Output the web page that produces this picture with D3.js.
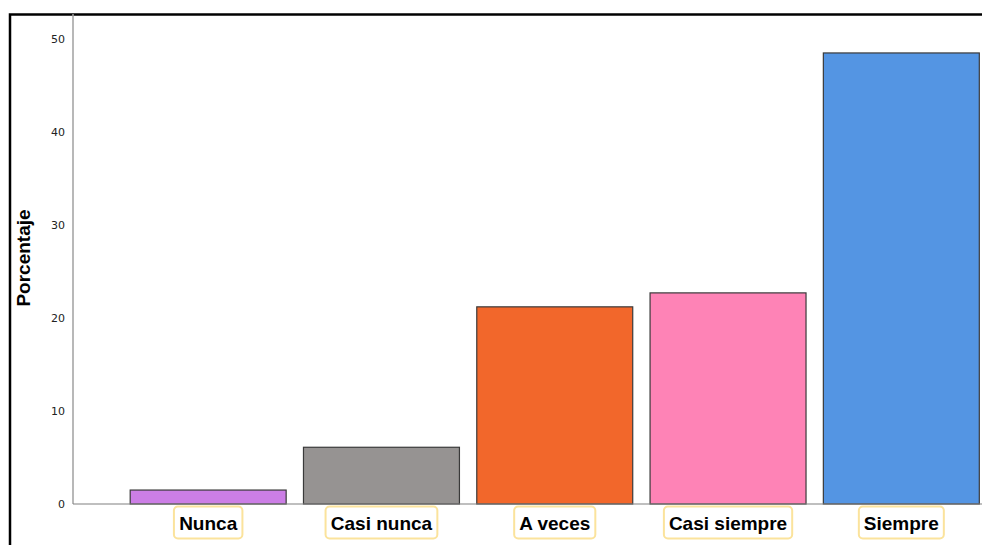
<!DOCTYPE html>
<html>
<head>
<meta charset="utf-8">
<script src="https://cdn.jsdelivr.net/npm/d3@7"></script>
<style>
  body { margin: 0; background: #fff; }
  svg { display: block; font-family: "Liberation Sans", Arial, sans-serif; }
</style>
</head>
<body>
<svg id="chart" width="982" height="545"></svg>
<script>
// chart data
var categories = ['Nunca', 'Casi nunca', 'A veces', 'Casi siempre', 'Siempre'];
var percentages = [1.5, 6.1, 21.2, 22.7, 48.5];
var barColors = ['#cc7ee6', '#969392', '#f2672b', '#fe83b6', '#5495e3'];
var yTicks = [0, 10, 20, 30, 40, 50];

var svg = d3.select('#chart');

var x0 = 73, yBase = 504;

var y = d3.scaleLinear()
    .domain([0, 50])
    .range([yBase, 39]);

var x = d3.scaleBand()
    .domain(categories)
    .range([x0, 1036.5])
    .paddingInner(0.1)
    .paddingOuter(0.33);

// outer frame
svg.append('path')
    .attr('d', 'M10,545 V14.5 H982')
    .attr('fill', 'none')
    .attr('stroke', '#000')
    .attr('stroke-width', 2.5);

// y axis
var yAxis = svg.append('g')
    .attr('transform', 'translate(' + x0 + ',0)')
    .call(d3.axisLeft(y).tickValues(yTicks).tickSize(0).tickPadding(8));
yAxis.select('.domain').remove();
yAxis.selectAll('text')
    .attr('font-size', 11)
    .attr('fill', '#222')
    .attr('font-family', '"DejaVu Sans", sans-serif');

svg.append('line')
    .attr('x1', x0).attr('x2', x0)
    .attr('y1', 14).attr('y2', yBase)
    .attr('stroke', '#a0a0a0')
    .attr('stroke-width', 1.5);

// bars
svg.selectAll('rect.bar')
    .data(categories)
    .enter().append('rect')
    .attr('class', 'bar')
    .attr('x', function(d) { return x(d); })
    .attr('width', x.bandwidth())
    .attr('y', function(d, i) { return y(percentages[i]); })
    .attr('height', function(d, i) { return yBase - y(percentages[i]); })
    .attr('fill', function(d, i) { return barColors[i]; })
    .attr('stroke', '#3a3a3a')
    .attr('stroke-width', 1.2);

// baseline
svg.append('line')
    .attr('x1', x0).attr('x2', 982)
    .attr('y1', yBase).attr('y2', yBase)
    .attr('stroke', '#808080')
    .attr('stroke-width', 1.2);

// category labels in boxes
var lab = svg.selectAll('g.lab')
    .data(categories)
    .enter().append('g')
    .attr('class', 'lab')
    .attr('transform', function(d) { return 'translate(' + (x(d) + x.bandwidth() / 2) + ',0)'; });

lab.append('text')
    .attr('text-anchor', 'middle')
    .attr('y', 530)
    .attr('font-size', 19)
    .attr('font-weight', 'bold')
    .attr('fill', '#000')
    .text(function(d) { return d; });

lab.insert('rect', 'text')
    .each(function() {
        var w = this.parentNode.querySelector('text').getBBox().width;
        d3.select(this)
            .attr('x', -w / 2 - 5)
            .attr('width', w + 10);
    })
    .attr('y', 506.5)
    .attr('height', 32)
    .attr('rx', 4)
    .attr('fill', '#fff')
    .attr('stroke', '#fbe39c')
    .attr('stroke-width', 2);

// y title
svg.append('text')
    .attr('transform', 'translate(30,258) rotate(-90)')
    .attr('text-anchor', 'middle')
    .attr('font-size', 19)
    .attr('font-weight', 'bold')
    .attr('fill', '#000')
    .text('Porcentaje');
</script>
</body>
</html>
